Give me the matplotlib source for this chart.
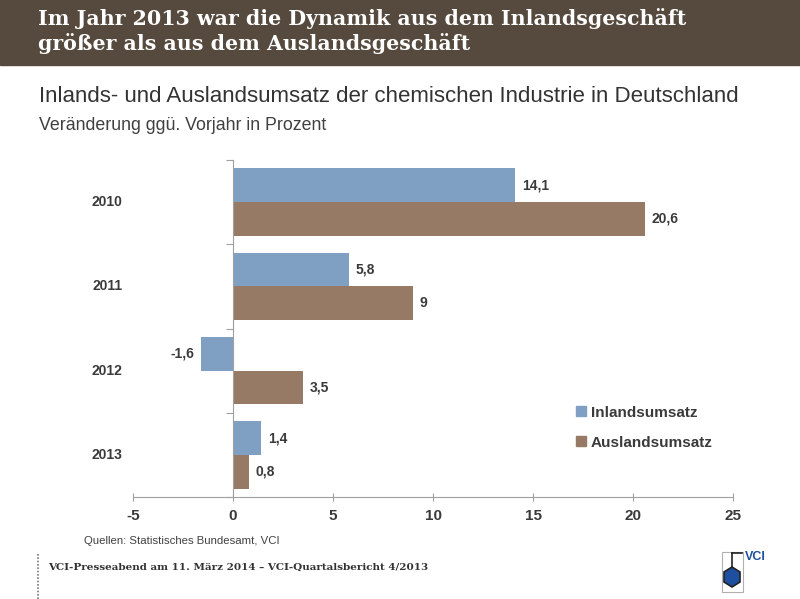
import matplotlib.pyplot as plt
import numpy as np
from matplotlib.patches import Rectangle, Polygon
from matplotlib.lines import Line2D

years = ['2010', '2011', '2012', '2013']
inland = [14.1, 5.8, -1.6, 1.4]
ausland = [20.6, 9.0, 3.5, 0.8]
inland_lbl = ['14,1', '5,8', '-1,6', '1,4']
ausland_lbl = ['20,6', '9', '3,5', '0,8']
xticks = [-5, 0, 5, 10, 15, 20, 25]

c_in = '#7f9fc3'
c_aus = '#977a65'
dark = '#3a3a3a'

fig = plt.figure(figsize=(8, 5.99), dpi=100)

# header band
fig.patches.append(Rectangle((0, 1 - 65 / 599), 1, 65 / 599, transform=fig.transFigure,
                             color='#564a3e', zorder=0))
fig.text(38 / 800, 1 - 19 / 599, 'Im Jahr 2013 war die Dynamik aus dem Inlandsgeschäft',
         family='DejaVu Serif', weight='bold', color='white', fontsize=14.8, va='center')
fig.text(38 / 800, 1 - 44 / 599, 'größer als aus dem Auslandsgeschäft',
         family='DejaVu Serif', weight='bold', color='white', fontsize=14.8, va='center')

fig.text(39 / 800, 1 - 96 / 599, 'Inlands- und Auslandsumsatz der chemischen Industrie in Deutschland',
         family='Liberation Sans', color='#333333', fontsize=16, va='center')
fig.text(39 / 800, 1 - 126 / 599, 'Veränderung ggü. Vorjahr in Prozent',
         family='Liberation Sans', color='#404040', fontsize=12.8, va='center')

ax = fig.add_axes([133 / 800, 1 - 497 / 599, 600 / 800, 337 / 599])
y = np.arange(len(years))
h = 0.4
ax.barh(y - h / 2, inland, height=h, color=c_in, label='Inlandsumsatz')
ax.barh(y + h / 2, ausland, height=h, color=c_aus, label='Auslandsumsatz')

lbl = dict(va='center', fontsize=10, weight='bold', color=dark, family='Liberation Sans')
for yi, v, t in zip(y, inland, inland_lbl):
    if v >= 0:
        ax.text(v + 0.35, yi - h / 2, t, ha='left', **lbl)
    else:
        ax.text(v - 0.35, yi - h / 2, t, ha='right', **lbl)
for yi, v, t in zip(y, ausland, ausland_lbl):
    ax.text(v + 0.35, yi + h / 2, t, ha='left', **lbl)

for yi, yr in zip(y, years):
    ax.text(-0.018, yi, yr, transform=ax.get_yaxis_transform(), ha='right', va='center',
            fontsize=10, weight='bold', color=dark, family='Liberation Sans')

ax.set_xlim(-5, 25)
ax.set_ylim(3.5, -0.5)
ax.set_xticks(xticks)
ax.set_xticklabels([str(t) for t in xticks], fontsize=11, weight='bold', color=dark,
                   family='Liberation Sans')
ax.set_yticks([-0.5, 0.5, 1.5, 2.5, 3.5])
ax.set_yticklabels([])
ax.spines['left'].set_position(('data', 0))
for s in ['top', 'right']:
    ax.spines[s].set_visible(False)
for s in ['left', 'bottom']:
    ax.spines[s].set_color('#a0a0a0')
ax.tick_params(axis='x', direction='inout', length=6, color='#a0a0a0', pad=6)
ax.tick_params(axis='y', direction='out', length=5, color='#a0a0a0')

leg = ax.legend(handles=[Line2D([], [], marker='s', ls='', color=c_in, markersize=7),
                         Line2D([], [], marker='s', ls='', color=c_aus, markersize=7)],
                labels=['Inlandsumsatz', 'Auslandsumsatz'],
                loc='upper left', bbox_to_anchor=(563 / 800, 1 - 392 / 599),
                bbox_transform=fig.transFigure, frameon=False, handlelength=0.6,
                handletextpad=0.3, labelspacing=1.05,
                prop={'family': 'Liberation Sans', 'weight': 'bold', 'size': 11})
for t in leg.get_texts():
    t.set_color(dark)

fig.text(84 / 800, 1 - 541 / 599, 'Quellen: Statistisches Bundesamt, VCI',
         family='Liberation Sans', color='#404040', fontsize=8.2, va='center')

# footer
fig.lines.append(Line2D([38 / 800, 38 / 800], [0, 1 - 553 / 599], transform=fig.transFigure,
                        color='#909090', lw=1.5, ls=(0, (0.8, 0.8))))
fig.text(48 / 800, 1 - 567 / 599, 'VCI-Presseabend am 11. März 2014 – VCI-Quartalsbericht 4/2013',
         family='DejaVu Serif', weight='bold', color='#333333', fontsize=7.5, va='center')

# logo
fig.patches.append(Rectangle((722 / 800, 1 - 592 / 599), 21 / 800, 40 / 599,
                             transform=fig.transFigure, fill=False, ec='#b0b0b0', lw=0.8))
hexa = [(732, 567), (740, 572), (740, 582), (732, 587), (724, 582), (724, 572)]
fig.patches.append(Polygon([(x / 800, 1 - yy / 599) for x, yy in hexa], closed=True,
                           transform=fig.transFigure, fc='#1f4fa0', ec='#222222', lw=1.2))
fig.lines.append(Line2D([732 / 800, 732 / 800], [1 - 567 / 599, 1 - 553 / 599],
                        transform=fig.transFigure, color='#222222', lw=1.2))
fig.lines.append(Line2D([732 / 800, 742 / 800], [1 - 553 / 599, 1 - 553 / 599],
                        transform=fig.transFigure, color='#222222', lw=1.2))
fig.text(745 / 800, 1 - 557 / 599, 'VCI', family='Liberation Sans', weight='bold',
         color='#1f4fa0', fontsize=9, va='center')

fig.savefig('out.png', dpi=100, facecolor='white')
